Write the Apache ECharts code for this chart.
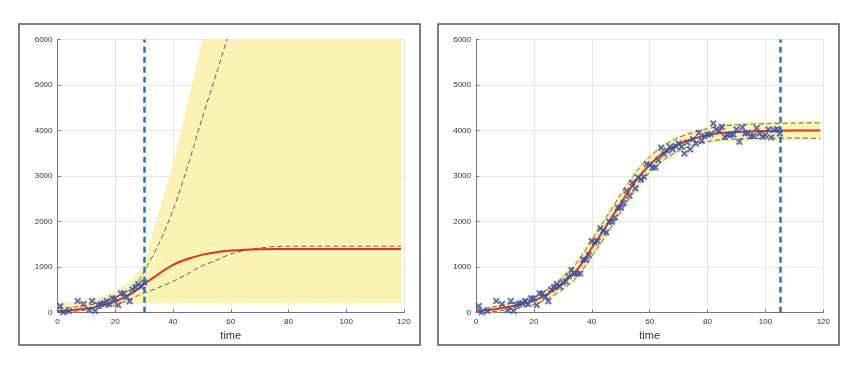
<!DOCTYPE html>
<html><head><meta charset="utf-8">
<script src="https://cdn.jsdelivr.net/npm/echarts@6/dist/echarts.min.js"></script>
<style>html,body{margin:0;padding:0;background:#fff}#c{width:861px;height:368px}</style>
</head><body><div id="c"></div>
<script>
// ---- observations ----
const obsT = [1,2,4,7,9,11,12,13,14,15,16,17,18,19,20,21,22,23,24,25,26,27,28,29,30,
  31,32,33,34,35,36,37,38,39,40,41,42,43,44,45,46,47,48,49,50,51,52,53,54,55,56,57,58,59,60,
  61,62,63,64,65,66,67,68,69,70,71,72,73,74,75,76,77,78,79,80,81,82,83,84,85,86,87,88,89,90,
  91,92,93,94,95,96,97,98,99,100,101,102,103,104,105];
const obsV = [146,10,37,256,190,59,256,37,168,190,212,256,190,315,310,168,424,424,345,252,512,560,629,571,665,
  690,805,937,860,855,860,1171,1160,1266,1573,1544,1573,1851,1800,1763,1998,1998,2093,2305,2305,2415,2678,2568,2854,2729,2971,2927,2985,3263,3241,
  3190,3190,3351,3622,3483,3556,3644,3585,3658,3717,3644,3497,3739,3585,3812,3717,3951,3776,3878,3914,3922,4156,4024,3988,4083,3863,3900,3914,3914,4024,
  3754,4068,3936,3951,3878,3878,4054,3936,3863,3900,4024,3849,4010,4032,3936];
const cutoffLeft = 30;
const cutoffRight = 105;

// ---- left fit (data up to t=30) ----
const tL      = [0,5,10,15,20,25,28,30,35,40,45,50,55,60,65,70,75,80,90,100,110,119];
const redL    = [30,55,90,150,245,400,530,630,850,1050,1180,1270,1330,1365,1385,1395,1400,1400,1400,1400,1400,1400];
const bandUpL = [190,230,280,350,470,680,900,1100,2200,3250,4600,5950,7200,8500,9800,11000,12300,13500,16000,18500,21000,23000];
const bandLoL = [20,30,55,95,140,180,200,210,210,210,210,210,210,210,210,210,210,210,210,210,210,210];
const dashUpL = [95,120,160,220,330,500,700,900,1500,2250,3200,4250,5250,6250,7200,8100,9000,9900,11500,13000,14500,15800];
const dashLoL = [15,30,55,95,170,290,380,430,550,690,850,1030,1150,1290,1370,1420,1450,1460,1460,1460,1460,1460];

// ---- right fit (data up to t=105) ----
const tR      = [0,5,10,15,20,25,30,35,40,45,50,55,60,65,70,75,80,85,90,100,110,119];
const redR    = [35,65,115,175,265,420,650,950,1420,1900,2400,2880,3250,3520,3700,3820,3900,3950,3970,3990,4000,4000];
const bandUpR = [95,135,205,275,385,570,840,1180,1680,2170,2670,3140,3490,3740,3900,4010,4090,4150,4175,4200,4215,4220];
const bandLoR = [0,0,25,75,145,270,460,720,1160,1630,2130,2620,3010,3300,3500,3630,3710,3750,3765,3780,3785,3780];
const dashUpR = [75,115,175,245,350,525,785,1110,1600,2090,2590,3060,3420,3675,3845,3960,4040,4100,4125,4150,4165,4170];
const dashLoR = [0,15,55,105,180,315,515,790,1240,1710,2210,2700,3080,3365,3555,3680,3760,3800,3815,3830,3835,3830];

const xTicks = [0,20,40,60,80,100,120];
const yTicks = [0,1000,2000,3000,4000,5000,6000];

const FONT = '"Liberation Sans", Arial, sans-serif';
const pairs = (xs, ys) => xs.map((x, i) => [x, ys[i]]);
const XSYM = 'path://M0,2 L2,0 L5,3 L8,0 L10,2 L7,5 L10,8 L8,10 L5,7 L2,10 L0,8 L3,5 Z';

function axes(gi) {
  const common = {
    type: 'value', gridIndex: gi,
    axisLine: {show: true, onZero: false, lineStyle: {color: '#777', width: 1}},
    axisTick: {show: true, inside: true, length: 3, lineStyle: {color: '#777'}},
    axisLabel: {fontFamily: FONT, fontSize: 8, color: '#333', margin: 5, formatter: v => String(v)},
    splitLine: {show: true, lineStyle: {color: '#e6e6e6', width: 1}}
  };
  const xa = Object.assign({}, common, {
    min: xTicks[0], max: xTicks[xTicks.length-1], interval: 20,
    name: 'time', nameLocation: 'middle', nameGap: 11,
    nameTextStyle: {fontFamily: FONT, fontSize: 11, color: '#333'}
  });
  const ya = Object.assign({}, common, {
    min: yTicks[0], max: yTicks[yTicks.length-1], interval: 1000
  });
  return [xa, ya];
}

function bandSeries(gi, t, up, lo) {
  return {
    type: 'custom', xAxisIndex: gi, yAxisIndex: gi, silent: true, z: 1,
    data: t.map((x, i) => [x, lo[i], up[i]]),
    encode: {x: 0, y: [1, 2]},
    renderItem: function (params, api) {
      if (params.dataIndex !== 0) return null;
      const topPts = t.map((x, i) => api.coord([x, up[i]]));
      const botPts = t.map((x, i) => api.coord([x, lo[i]])).reverse();
      const cs = params.coordSys;
      return {
        type: 'polygon',
        shape: {points: topPts.concat(botPts)},
        style: {fill: '#f9f4b4'},
        clipPath: {type: 'rect', shape: {x: cs.x, y: cs.y, width: cs.width, height: cs.height}}
      };
    }
  };
}

function panel(gi, t, red, up, lo, dUp, dLo, cutoff) {
  const pts = obsT.map((x, i) => [x, obsV[i]]).filter(p => p[0] <= cutoff);
  return [
    bandSeries(gi, t, up, lo),
    {type: 'line', xAxisIndex: gi, yAxisIndex: gi, data: pairs(t, dUp), smooth: 0.3, symbol: 'none',
     lineStyle: {color: '#555', width: 0.9, type: [5, 3]}, z: 2},
    {type: 'line', xAxisIndex: gi, yAxisIndex: gi, data: pairs(t, dLo), smooth: 0.3, symbol: 'none',
     lineStyle: {color: '#555', width: 0.9, type: [5, 3]}, z: 2},
    {type: 'line', xAxisIndex: gi, yAxisIndex: gi, data: pairs(t, red), smooth: 0.3, symbol: 'none',
     lineStyle: {color: '#ee2a1e', width: 2}, z: 3},
    {type: 'scatter', xAxisIndex: gi, yAxisIndex: gi, data: pts, symbol: XSYM, symbolSize: 7,
     itemStyle: {color: '#3550a8'}, z: 4},
    {type: 'line', xAxisIndex: gi, yAxisIndex: gi, data: [], z: 5,
     markLine: {symbol: 'none', silent: true, label: {show: false},
       lineStyle: {color: '#1d76c9', width: 2.5, type: [6, 4]},
       data: [{xAxis: cutoff}]}}
  ];
}

const [xa0, ya0] = axes(0);
const [xa1, ya1] = axes(1);

const chart = echarts.init(document.getElementById('c'), null, {renderer: 'canvas'});
chart.setOption({
  animation: false,
  backgroundColor: '#fff',
  graphic: [
    {type: 'rect', shape: {x: 19, y: 24, width: 401, height: 321}, style: {fill: 'none', stroke: '#555', lineWidth: 1.5}, z: 10},
    {type: 'rect', shape: {x: 438, y: 24, width: 401, height: 321}, style: {fill: 'none', stroke: '#555', lineWidth: 1.5}, z: 10}
  ],
  grid: [
    {left: 57.5, top: 39.5, width: 346.5, height: 273.2},
    {left: 476, top: 39.5, width: 347.3, height: 273.2}
  ],
  xAxis: [xa0, xa1],
  yAxis: [ya0, ya1],
  series: [
    ...panel(0, tL, redL, bandUpL, bandLoL, dashUpL, dashLoL, cutoffLeft),
    ...panel(1, tR, redR, bandUpR, bandLoR, dashUpR, dashLoR, cutoffRight)
  ]
});
</script></body></html>
